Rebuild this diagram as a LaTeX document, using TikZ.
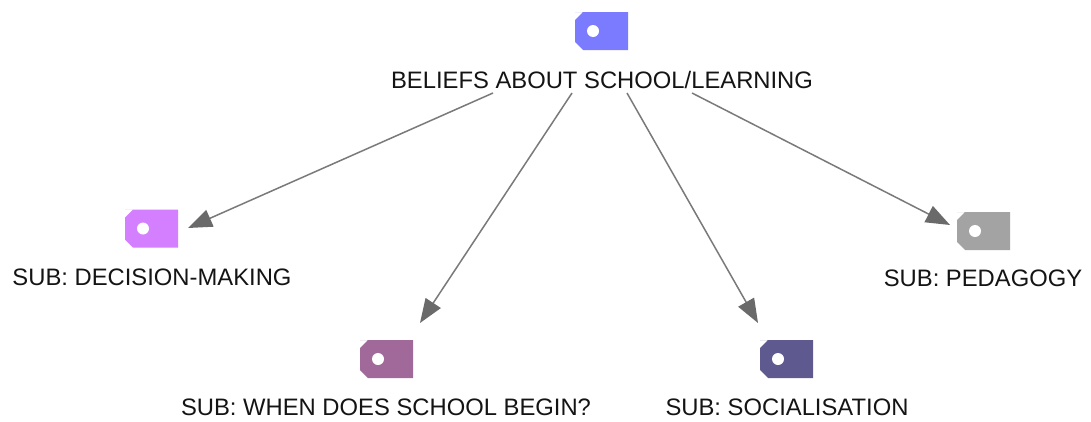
\documentclass[tikz,border=0pt]{standalone}
\usepackage{fontspec}
\setmainfont{Liberation Sans}
\usetikzlibrary{arrows.meta}
\definecolor{cTop}{HTML}{7B7BFF}
\definecolor{cDec}{HTML}{D47FFF}
\definecolor{cWhen}{HTML}{A0699A}
\definecolor{cSoc}{HTML}{5E5A8F}
\definecolor{cPed}{HTML}{A3A3A3}
\definecolor{cLine}{HTML}{7A7A7A}
\definecolor{cHead}{HTML}{6A6A6A}
\definecolor{cText}{HTML}{141414}
\tikzset{
  lbl/.style={anchor=base, inner sep=0pt, text=cText, font=\fontsize{23.8}{28}\selectfont},
  conn/.style={draw=cLine, line width=1.5pt, -{Triangle[length=24pt,width=18pt,color=cHead,fill=cHead]}},
  tag/.pic={
    \fill[#1] (-26.5,-19) -- (26.5,-19) -- (26.5,19) -- (-18.5,19) -- (-26.5,11) -- (-26.5,-11) -- (-18.5,-19) -- cycle;
    \fill[white] (-8.5,0) circle (6);
  }
}
\begin{document}
\begin{tikzpicture}[x=1pt,y=-1pt]
\useasboundingbox[fill=white] (0,0) rectangle (1091,421);
% tags
\pic (tagtop) at (601.5,31) {tag=cTop};
\pic (tagdec) at (151.5,228.5) {tag=cDec};
\pic (tagwhen) at (386.5,359) {tag=cWhen};
\pic (tagsoc) at (786.5,359) {tag=cSoc};
\pic (tagped) at (983.5,231) {tag=cPed};
% labels
\node[lbl] (top) at (602,88) {BELIEFS ABOUT SCHOOL/LEARNING};
\node[lbl] (dec) at (152,285) {SUB: DECISION-MAKING};
\node[lbl] (when) at (386,415) {SUB: WHEN DOES SCHOOL BEGIN?};
\node[lbl] (soc) at (787,415) {SUB: SOCIALISATION};
\node[lbl] (ped) at (983,286) {SUB: PEDAGOGY};
% connector ends
\coordinate (s1) at (493,93);  \coordinate (t1) at (188,228);
\coordinate (s2) at (572,93);  \coordinate (t2) at (420,323);
\coordinate (s3) at (627,93);  \coordinate (t3) at (758,323);
\coordinate (s4) at (692,93);  \coordinate (t4) at (950,225);
\draw[conn] (s1) -- (t1);
\draw[conn] (s2) -- (t2);
\draw[conn] (s3) -- (t3);
\draw[conn] (s4) -- (t4);
\end{tikzpicture}
\end{document}
